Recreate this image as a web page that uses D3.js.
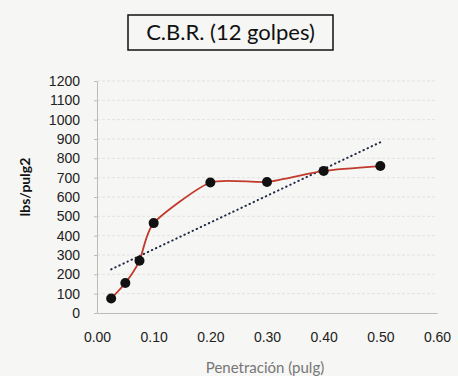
<!DOCTYPE html>
<html>
<head>
<meta charset="utf-8">
<script src="https://cdn.jsdelivr.net/npm/d3@7"></script>
<style>
  body { margin: 0; background: #f6f6f4; }
  svg { display: block; font-family: Lato, "Open Sans", sans-serif; }
  .c-axis text { font-size: 14px; fill: #222; }
  .c-axis path { stroke: #bbb; }
</style>
</head>
<body>
<div id="cbrChart"></div>
<script>
// chart values
const penetration = [0.025, 0.05, 0.075, 0.1, 0.2, 0.3, 0.4, 0.5];
const pressure = [75, 155, 270, 465, 675, 678, 735, 760];
const xTicks = [0, 0.1, 0.2, 0.3, 0.4, 0.5, 0.6];
const yTicks = [0, 100, 200, 300, 400, 500, 600, 700, 800, 900, 1000, 1100, 1200];
const chartTitle = 'C.B.R. (12 golpes)';
const xTitle = 'Penetración (pulg)';
const yTitle = 'lbs/pulg2';

const width = 458;
const height = 376;

const svg = d3.select('#cbrChart')
  .append('svg')
  .attr('width', width)
  .attr('height', height);

const x = d3.scaleLinear().domain([0, 0.6]).range([97, 437]);
const y = d3.scaleLinear().domain([0, 1200]).range([313, 81]);

const points = penetration.map((p, i) => ({x: p, y: pressure[i]}));

// faint gridlines
svg.append('g')
  .selectAll('line')
  .data(yTicks.slice(1))
  .enter()
  .append('line')
  .attr('x1', x(0))
  .attr('x2', x(0.6))
  .attr('y1', (d) => y(d))
  .attr('y2', (d) => y(d))
  .attr('stroke', '#e2e2e2')
  .attr('stroke-dasharray', '3,2');

// axes
svg.append('g')
  .attr('class', 'c-axis')
  .attr('transform', 'translate(' + x(0) + ',0)')
  .call(d3.axisLeft(y).tickValues(yTicks).tickFormat(d3.format('d')).tickSizeInner(3).tickSizeOuter(0).tickPadding(14))
  .call((g) => g.selectAll('.tick line').attr('stroke', '#bbb'));

svg.append('g')
  .attr('class', 'c-axis')
  .attr('transform', 'translate(0,' + y(0) + ')')
  .call(d3.axisBottom(x).tickValues(xTicks).tickFormat(d3.format('.2f')).tickSize(0).tickPadding(19))
  .call((g) => g.select('.domain').attr('stroke', '#ccc'));

// linear trend from the data
const meanX = d3.mean(penetration);
const meanY = d3.mean(pressure);
const slope = d3.sum(points, (d) => (d.x - meanX) * (d.y - meanY)) /
  d3.sum(points, (d) => (d.x - meanX) * (d.x - meanX));
const intercept = meanY - slope * meanX;
const trendX = d3.extent(penetration);

svg.append('line')
  .attr('x1', x(trendX[0]))
  .attr('y1', y(intercept + slope * trendX[0]))
  .attr('x2', x(trendX[1]))
  .attr('y2', y(intercept + slope * trendX[1]))
  .attr('stroke', '#1f2a44')
  .attr('stroke-width', 2)
  .attr('stroke-linecap', 'round')
  .attr('stroke-dasharray', '0.5,4');

// smoothed curve
const line = d3.line()
  .x((d) => x(d.x))
  .y((d) => y(d.y))
  .curve(d3.curveCardinal.tension(0.35));

svg.append('path')
  .datum(points)
  .attr('d', line)
  .attr('fill', 'none')
  .attr('stroke', '#c0392b')
  .attr('stroke-width', 1.8);

svg.append('g')
  .selectAll('circle')
  .data(points)
  .enter()
  .append('circle')
  .attr('cx', (d) => x(d.x))
  .attr('cy', (d) => y(d.y))
  .attr('r', 5)
  .attr('fill', '#111');

// titles
svg.append('rect')
  .attr('x', 128)
  .attr('y', 15)
  .attr('width', 205)
  .attr('height', 35)
  .attr('fill', 'none')
  .attr('stroke', '#111')
  .attr('stroke-width', 1.5);

svg.append('text')
  .attr('x', 230.5)
  .attr('y', 40)
  .attr('text-anchor', 'middle')
  .attr('font-size', 22)
  .attr('fill', '#111')
  .text(chartTitle);

svg.append('text')
  .attr('transform', 'translate(30,187) rotate(-90)')
  .attr('text-anchor', 'middle')
  .attr('font-size', 14)
  .attr('font-weight', 'bold')
  .attr('fill', '#111')
  .text(yTitle);

svg.append('text')
  .attr('x', 265)
  .attr('y', 373)
  .attr('text-anchor', 'middle')
  .attr('font-size', 15)
  .attr('fill', '#777')
  .text(xTitle);
</script>
</body>
</html>
